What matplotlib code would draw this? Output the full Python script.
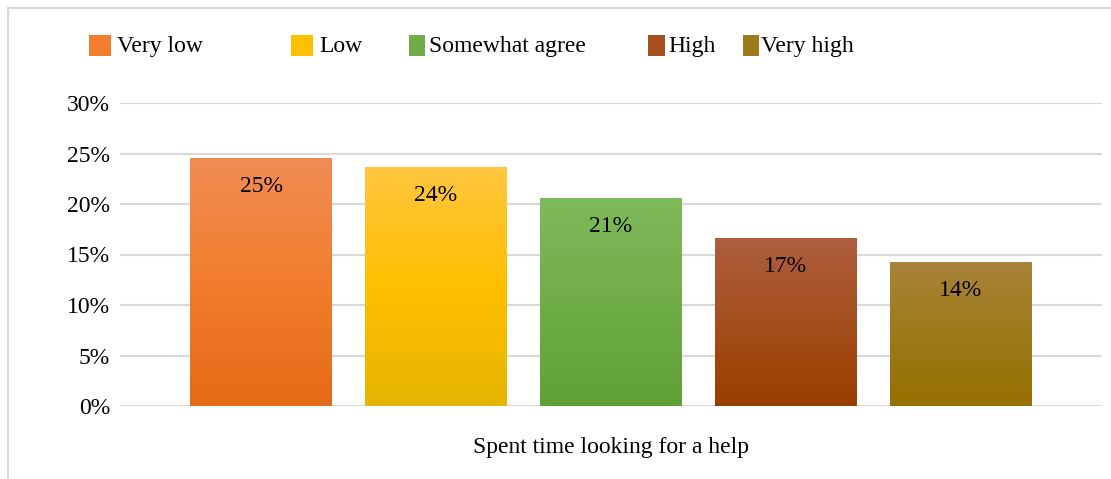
import numpy as np
import matplotlib
matplotlib.use("Agg")
import matplotlib.pyplot as plt
from matplotlib.patches import Rectangle
from matplotlib.lines import Line2D
from matplotlib.colors import LinearSegmentedColormap
from matplotlib.ticker import PercentFormatter

# Data
categories = ["Very low", "Low", "Somewhat agree", "High", "Very high"]
values = [24.6, 23.7, 20.6, 16.6, 14.3]
axis_title = "Spent time looking for a help"
yticks = [0, 5, 10, 15, 20, 25, 30]

# Gradient (top, middle, bottom) per bar
gradients = [
    ("#F18C55", "#F27D2C", "#E56A17"),
    ("#FFC63F", "#FFC000", "#E5B400"),
    ("#7FBA5C", "#70AD47", "#60A135"),
    ("#AE5E3F", "#A54F1E", "#9A3D00"),
    ("#A8833A", "#9E7A1A", "#967000"),
]
legend_colors = [g[1] for g in gradients]

W, H = 1111, 479
FS = 17
plt.rcParams["font.family"] = ["Liberation Serif", "DejaVu Serif"]

fig = plt.figure(figsize=(W / 100, H / 100), dpi=100)
fig.patch.set_facecolor("white")

def fx(px):
    return px / W

def fy(py):
    return 1 - py / H

# Outer frame (top and left edges visible)
fig.add_artist(Line2D([fx(8), 1.0], [fy(8), fy(8)], transform=fig.transFigure,
                      color="#D9D9D9", lw=1.5))
fig.add_artist(Line2D([fx(8), fx(8)], [fy(8), 0.0], transform=fig.transFigure,
                      color="#D9D9D9", lw=1.5))

ax = fig.add_axes([fx(120), fy(406), fx(1102) - fx(120), fy(103) - fy(406)])
ax.set_facecolor("none")

x = np.arange(len(categories))
width = 0.81
bars = ax.bar(x, values, width=width, color="none", edgecolor="none", zorder=3)

grad = np.linspace(1, 0, 256).reshape(-1, 1)
for rect, (top, mid, bot) in zip(bars, gradients):
    cmap = LinearSegmentedColormap.from_list("g", [bot, mid, top])
    x0, y0 = rect.get_x(), rect.get_y()
    w, h = rect.get_width(), rect.get_height()
    im = ax.imshow(grad, cmap=cmap, aspect="auto", extent=[x0, x0 + w, y0, y0 + h],
                   origin="upper", zorder=3, interpolation="bilinear")
    im.set_clip_path(rect)

for xi, v in zip(x, values):
    ax.annotate(f"{v:.0f}%", xy=(xi, v), xytext=(0, -34), textcoords="offset pixels",
                ha="center", va="baseline", fontsize=FS, color="#000000", zorder=4)

ax.set_xlim(-0.806, len(categories) - 1 + 0.806)
ax.set_ylim(0, 30)
ax.set_yticks(yticks)
ax.yaxis.set_major_formatter(PercentFormatter(decimals=0))
ax.tick_params(axis="y", length=0, pad=7, labelsize=FS, labelcolor="#000000")
ax.set_xticks([])
ax.grid(axis="y", color="#D9D9D9", lw=1.5, zorder=0)
ax.set_axisbelow(True)
for s in ax.spines.values():
    s.set_visible(False)

fig.text(fx(611), fy(453), axis_title, ha="center", va="baseline", fontsize=FS)

# Legend
legend_items = [
    (89, 22, 117),
    (291, 22, 319),
    (409, 16, 429),
    (648, 17, 668),
    (743, 16, 761),
]
for (sx, sw, tx), label, c in zip(legend_items, categories, legend_colors):
    fig.add_artist(Rectangle((fx(sx), fy(56)), sw / W, 21 / H, transform=fig.transFigure,
                             facecolor=c, edgecolor="none"))
    fig.text(fx(tx), fy(52), label, ha="left", va="baseline", fontsize=FS)

fig.savefig("out.png", dpi=100)
